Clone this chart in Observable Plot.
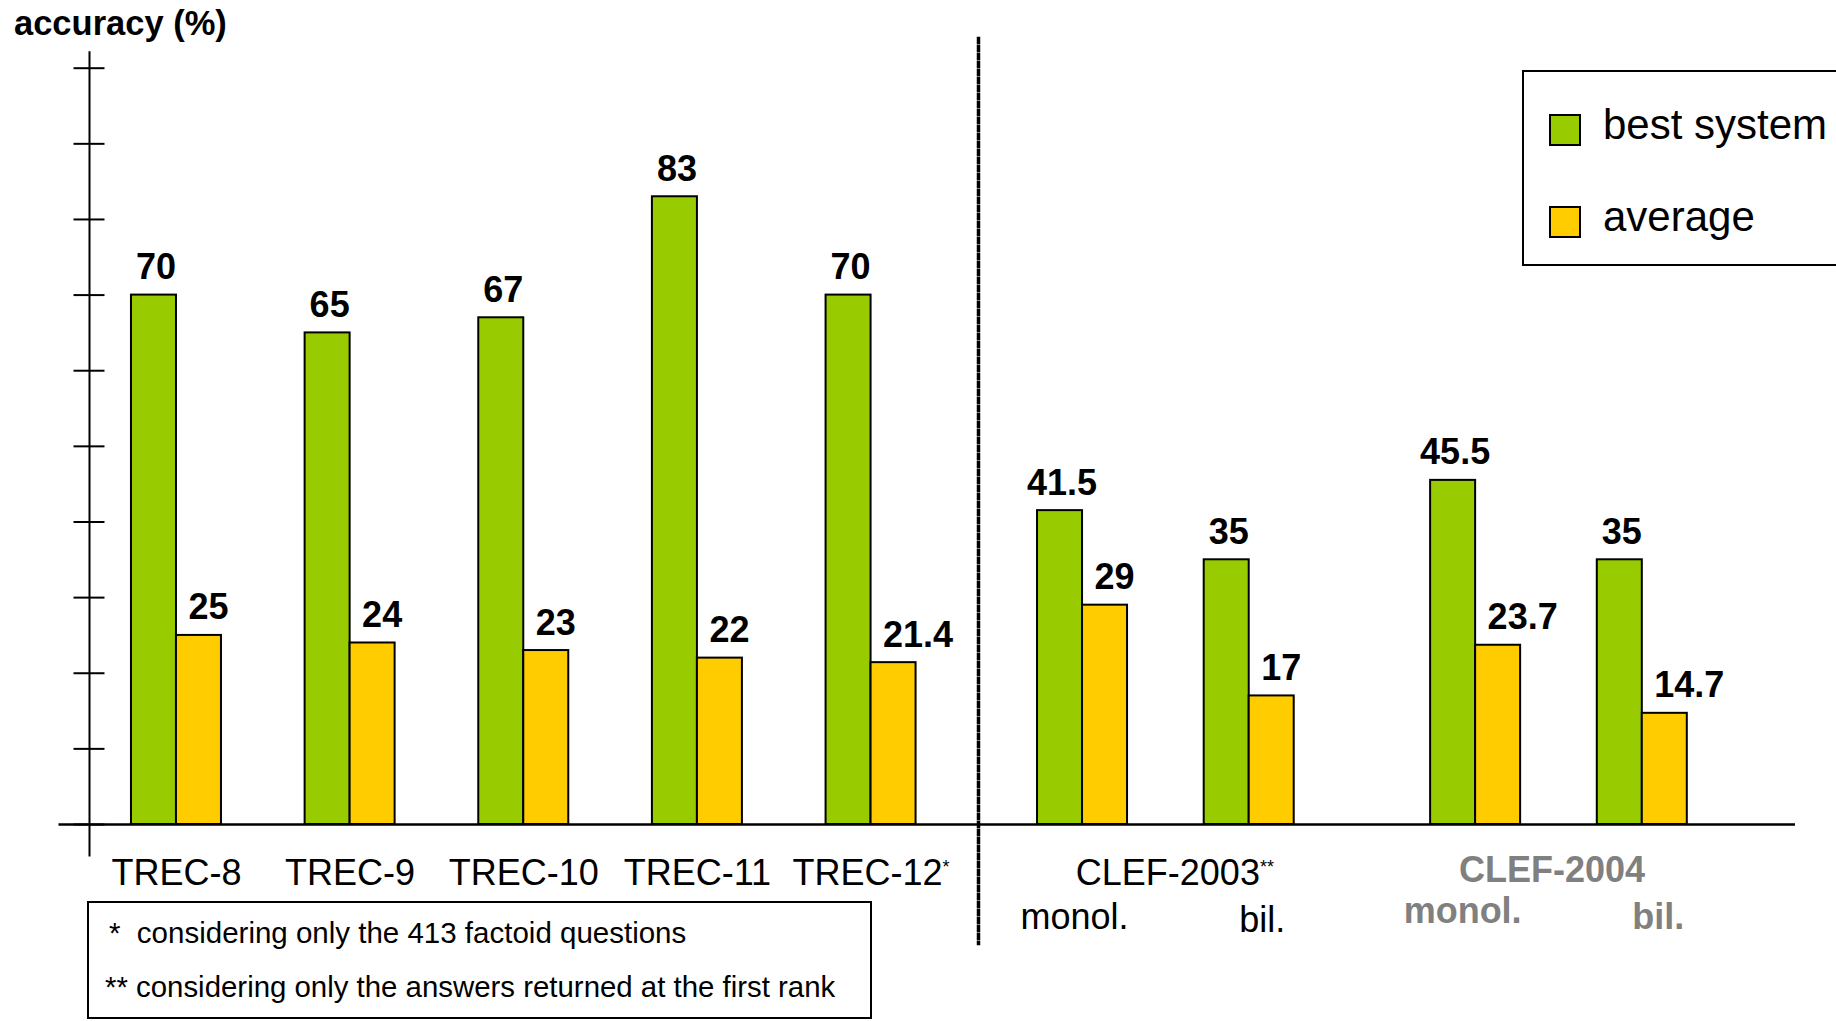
<!DOCTYPE html>
<html>
<head>
<meta charset="utf-8">
<script src="https://cdn.jsdelivr.net/npm/d3@7"></script>
<script src="https://cdn.jsdelivr.net/npm/@observablehq/plot@0.6"></script>
<style>
  html, body { margin: 0; padding: 0; background: #fff; }
  #chart { position: relative; width: 1836px; height: 1021px; overflow: hidden; background: #fff;
           font-family: "Liberation Sans", Arial, sans-serif; color: #000; }
  .abs { position: absolute; line-height: 1; white-space: pre; }
</style>
</head>
<body>
<div id="chart"></div>
<script>
// ---------------- data ----------------
const yTitle = "accuracy (%)";
const trecGroups = ["TREC-8", "TREC-9", "TREC-10", "TREC-11", "TREC-12"];
const trecLabels = ["TREC-8", "TREC-9", "TREC-10", "TREC-11", "TREC-12*"];
const trecBest = [70, 65, 67, 83, 70];
const trecAverage = [25, 24, 23, 22, 21.4];

const clefYears = ["CLEF-2003", "CLEF-2004"];
const clefYearLabels = ["CLEF-2003**", "CLEF-2004"];
const clefSubs = ["monol.", "bil."];
// order: 2003 monol., 2003 bil., 2004 monol., 2004 bil.
const clefBest = [41.5, 35, 45.5, 35];
const clefAverage = [29, 17, 23.7, 14.7];

const seriesNames = ["best system", "average"];
const yTicks = [0, 10, 20, 30, 40, 50, 60, 70, 80, 90, 100];
const footnotes = [
  "*  considering only the 413 factoid questions",
  "** considering only the answers returned at the first rank"
];

// ---------------- styles ----------------
const GREEN = "#99CC00", YELLOW = "#FFCC00", GRAY = "#808080";
const FONT = '"Liberation Sans", Arial, sans-serif';
const W = 1836, H = 1021, MT = 67.7, MB = 1021 - 824;

const trec = trecGroups.map((g, i) => ({group: g, label: trecLabels[i], best: trecBest[i], average: trecAverage[i]}));
const clef = clefYears.flatMap((yr, i) => clefSubs.map((s, j) => ({
  year: yr, sub: s, best: clefBest[i * 2 + j], average: clefAverage[i * 2 + j]
})));
const clefYearRows = clefYears.map((yr, i) => ({year: yr, label: clefYearLabels[i]}));
const fmt = v => String(v);

const svgStyle = {fontFamily: FONT, background: "transparent", overflow: "visible"};
const barOpts = {stroke: "black", strokeWidth: 2};
const valOpts = {lineAnchor: "bottom", dy: -16, fontSize: 36, fontWeight: "bold", fill: "black"};

// ---------------- TREC panel (also draws the axes and the divider) ----------------
const plot1 = Plot.plot({
  width: W, height: H,
  marginLeft: 89, marginRight: W - 978, marginTop: MT, marginBottom: MB,
  style: svgStyle,
  x: {domain: trecGroups, paddingInner: 0.4817, paddingOuter: 0.3006, align: 0.402, round: false, axis: null},
  y: {domain: [0, 100], axis: null, label: null},
  marks: [
    Plot.barY(trec, {x: "group", y: "best", fill: GREEN, ...barOpts, insetRight: 45}),
    Plot.barY(trec, {x: "group", y: "average", fill: YELLOW, ...barOpts, insetLeft: 45}),
    Plot.text(trec, {x: "group", y: "best", text: d => fmt(d.best), dx: -20.5, ...valOpts}),
    Plot.text(trec, {x: "group", y: "average", text: d => fmt(d.average), textAnchor: "start", dx: 12, ...valOpts}),
    Plot.text(trec, {x: "group", text: "label", frameAnchor: "bottom", lineAnchor: "bottom", dy: 60, fontSize: 36, fill: "black"}),
    Plot.axisY({ticks: yTicks, tickSize: 31, dx: 15.5, tickFormat: () => "", strokeWidth: 2, label: null}),
    Plot.frame({anchor: "left", insetTop: -16, insetBottom: -31, strokeWidth: 2}),
    // dotted divider between TREC and CLEF
    Plot.frame({anchor: "right", strokeWidth: 3.5, strokeDasharray: "4 4", insetTop: -29.7, insetBottom: -119}),
    // baseline at y = 0, running under both panels
    Plot.ruleY([0], {insetLeft: -30.5, insetRight: -817, strokeWidth: 2.5})
  ]
});

// ---------------- CLEF panel ----------------
const subMarks = [];
const subDy = [[104, 107], [98, 104]];
clefYears.forEach((yr, i) => {
  const gray = i === 1;
  clefSubs.forEach((s, j) => {
    subMarks.push(Plot.text(clef, {
      filter: d => d.year === yr && d.sub === s,
      fx: "year", x: "sub", text: "sub",
      frameAnchor: "bottom", lineAnchor: "bottom", dy: subDy[i][j],
      textAnchor: j === 0 ? "end" : "start", dx: j === 0 ? 46 : -10,
      fontSize: 36, fontWeight: gray ? "bold" : "normal", fill: gray ? GRAY : "black"
    }));
  });
});

const plot2 = Plot.plot({
  width: 878, height: H,
  marginLeft: 20, marginRight: 41, marginTop: MT, marginBottom: MB,
  style: svgStyle,
  fx: {domain: clefYears, paddingInner: 0.347, paddingOuter: 0.2127, align: 0.353, round: false, axis: null, label: null},
  x: {domain: clefSubs, paddingInner: 0.46, paddingOuter: 0, round: false, axis: null},
  y: {domain: [0, 100], axis: null, label: null},
  marks: [
    Plot.barY(clef, {fx: "year", x: "sub", y: "best", fill: GREEN, ...barOpts, insetRight: 45}),
    Plot.barY(clef, {fx: "year", x: "sub", y: "average", fill: YELLOW, ...barOpts, insetLeft: 45}),
    Plot.text(clef, {fx: "year", x: "sub", y: "best", text: d => fmt(d.best), dx: -20.5, ...valOpts}),
    Plot.text(clef, {fx: "year", x: "sub", y: "average", text: d => fmt(d.average), textAnchor: "start", dx: 12, ...valOpts}),
    Plot.text(clefYearRows, {filter: d => d.year === clefYears[0], fx: "year", text: "label",
      frameAnchor: "bottom", lineAnchor: "bottom", dy: 60, dx: 9, fontSize: 36, fill: "black"}),
    Plot.text(clefYearRows, {filter: d => d.year === clefYears[1], fx: "year", text: "label",
      frameAnchor: "bottom", lineAnchor: "bottom", dy: 57, dx: -7, fontSize: 36, fontWeight: "bold", fill: GRAY}),
    ...subMarks
  ]
});

// superscript asterisks on labels such as "TREC-12*" and "CLEF-2003**"
function superscriptStars(svg) {
  d3.select(svg).selectAll("text").each(function () {
    if (this.querySelector("tspan")) return;
    const m = (this.textContent || "").match(/^(.*[^*])(\*+)$/);
    if (!m) return;
    this.textContent = m[1];
    d3.select(this).append("tspan").attr("font-size", 18).attr("font-weight", "normal")
      .attr("dy", -12).text(m[2]);
  });
}
superscriptStars(plot1);
superscriptStars(plot2);

const chart = document.getElementById("chart");
function place(el, left) {
  el.style.position = "absolute";
  el.style.left = left + "px";
  el.style.top = "0px";
  chart.appendChild(el);
}
place(plot1, 0);
place(plot2, 958);

// ---------------- HTML text: title, legend, footnotes ----------------
function textDiv(txt, left, baseline, size, extra = {}) {
  const d = document.createElement("div");
  d.className = "abs";
  d.textContent = txt;
  d.style.left = left + "px";
  d.style.top = (baseline - 0.8465 * size) + "px";
  d.style.fontSize = size + "px";
  Object.assign(d.style, extra);
  chart.appendChild(d);
  return d;
}
function boxDiv(left, top, width, height, extra = {}) {
  const d = document.createElement("div");
  Object.assign(d.style, {position: "absolute", left: left + "px", top: top + "px", width: width + "px",
    height: height + "px", boxSizing: "border-box", border: "2px solid #000", background: "#fff"}, extra);
  chart.appendChild(d);
  return d;
}

textDiv(yTitle, 14, 35, 34.5, {fontWeight: "bold"});

// legend
boxDiv(1522, 70, 340, 196);
const legendColors = [GREEN, YELLOW];
const legendBaselines = [140, 232];
seriesNames.forEach((name, i) => {
  boxDiv(1549, legendBaselines[i] - 26, 32, 32, {background: legendColors[i]});
  textDiv(name, 1603, legendBaselines[i], 42);
});

// footnotes
boxDiv(87, 901, 785, 118);
textDiv(footnotes[0], 109, 943, 29.5);
textDiv(footnotes[1], 105, 997, 29.4);
</script>
</body>
</html>
